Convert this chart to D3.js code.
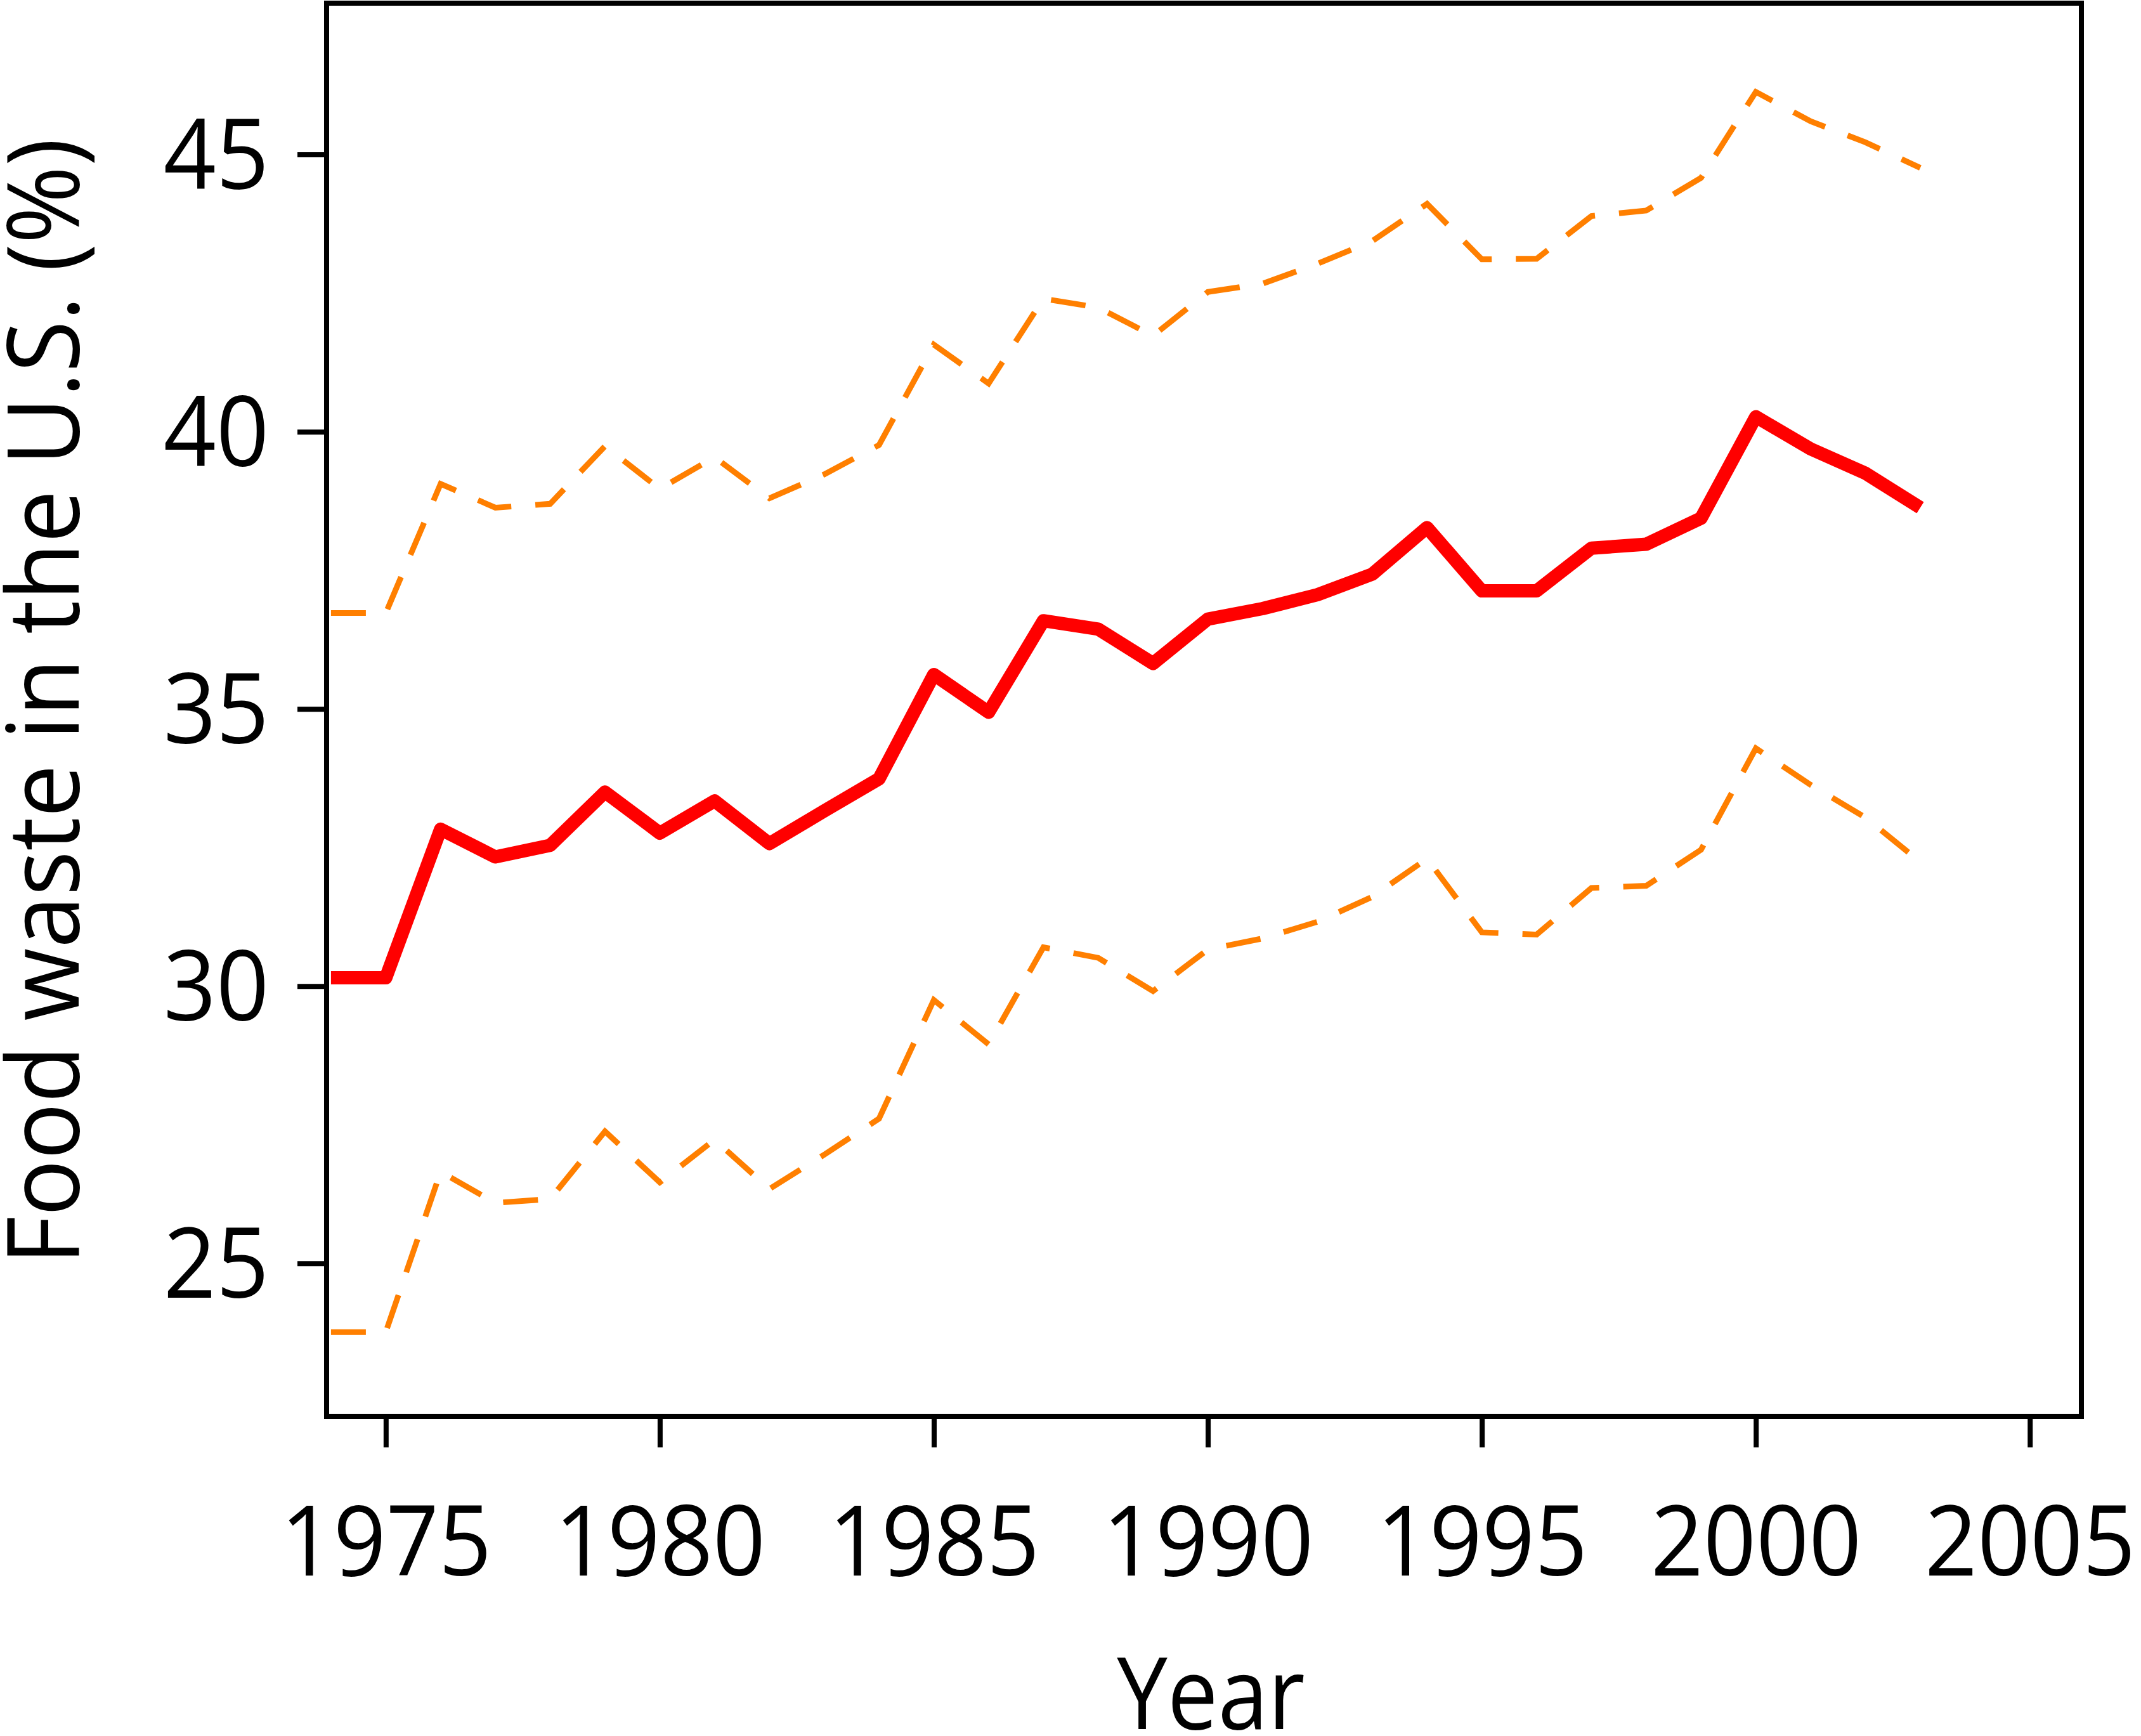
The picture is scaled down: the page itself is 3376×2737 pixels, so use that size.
<!DOCTYPE html>
<html>
<head>
<meta charset="utf-8">
<script src="https://cdn.jsdelivr.net/npm/d3@7"></script>
<style>
  body { margin: 0; background: #fff; }
  svg { display: block; }
  text { font-family: "Open Sans", "Noto Sans", sans-serif; fill: #000; }
</style>
</head>
<body>
<svg id="chart"></svg>
<script>
// data
const years = [1974, 1975, 1976, 1977, 1978, 1979, 1980, 1981, 1982, 1983,
  1984, 1985, 1986, 1987, 1988, 1989, 1990, 1991, 1992, 1993,
  1994, 1995, 1996, 1997, 1998, 1999, 2000, 2001, 2002, 2003];

const waste = [30.15, 30.15, 32.83, 32.33, 32.54, 33.50, 32.76, 33.34, 32.57, 33.16,
  33.74, 35.62, 34.94, 36.59, 36.44, 35.82, 36.62, 36.81, 37.06, 37.43,
  38.27, 37.13, 37.13, 37.90, 37.97, 38.44, 40.27, 39.69, 39.25, 38.63];

const upper = [36.73, 36.73, 39.06, 38.63, 38.70, 39.74, 38.97, 39.54, 38.80, 39.23,
  39.76, 41.57, 40.87, 42.40, 42.24, 41.73, 42.52, 42.67, 43.03, 43.44,
  44.11, 43.11, 43.12, 43.89, 43.99, 44.58, 46.13, 45.60, 45.22, 44.76];

const lower = [23.76, 23.76, 26.65, 26.09, 26.16, 27.38, 26.46, 27.23, 26.34, 26.96,
  27.61, 29.75, 28.95, 30.70, 30.51, 29.91, 30.66, 30.86, 31.16, 31.61,
  32.30, 30.97, 30.93, 31.77, 31.81, 32.46, 34.29, 33.63, 33.04, 32.24];

const xTicks = [1975, 1980, 1985, 1990, 1995, 2000, 2005];
const yTicks = [25, 30, 35, 40, 45];

const W = 3376, H = 2737;
// plot box edges
const boxL = 515, boxR = 3282, boxT = 5, boxB = 2233;
// the original face is narrower than Open Sans, squeeze text a bit
const squeeze = 0.95;

const svg = d3.select("#chart")
  .attr("width", W)
  .attr("height", H);

const x = d3.scaleLinear().domain([1973.92, 2005.94]).range([boxL, boxR]);
const y = d3.scaleLinear().domain([22.24, 47.73]).range([boxB, boxT]);

const line = (vals) => d3.line()
  .x((d, i) => x(years[i]))
  .y(d => y(d))(vals);

// confidence bounds, dashed
svg.append("g").selectAll("path.bound")
  .data([upper, lower]).enter()
  .append("path")
  .attr("class", "bound")
  .attr("d", d => line(d))
  .attr("fill", "none")
  .attr("stroke", "#ff7f00")
  .attr("stroke-width", 9)
  .attr("stroke-dasharray", "55,38");

// main series
svg.append("path")
  .attr("d", line(waste))
  .attr("fill", "none")
  .attr("stroke", "#ff0000")
  .attr("stroke-width", 21)
  .attr("stroke-linejoin", "round");

// box around plot
svg.append("rect")
  .attr("x", boxL)
  .attr("y", boxT)
  .attr("width", boxR - boxL)
  .attr("height", boxB - boxT)
  .attr("fill", "none")
  .attr("stroke", "#000")
  .attr("stroke-width", 8);

// axes
const xAxis = svg.append("g")
  .attr("transform", `translate(0,${boxB})`)
  .call(d3.axisBottom(x).tickValues(xTicks).tickFormat(d3.format("d"))
    .tickSize(49).tickPadding(0));

const yAxis = svg.append("g")
  .attr("transform", `translate(${boxL},0)`)
  .call(d3.axisLeft(y).tickValues(yTicks).tickSize(46).tickPadding(45));

[xAxis, yAxis].forEach(ax => {
  ax.select(".domain").remove();
  ax.selectAll(".tick line").attr("stroke", "#000").attr("stroke-width", 8);
  ax.selectAll(".tick text")
    .style("font-size", "153px")
    .attr("fill", "#000")
    .attr("transform", `scale(${squeeze},1)`);
});

xAxis.selectAll(".tick text")
  .attr("dy", null)
  .attr("y", 2484 - boxB);

yAxis.selectAll(".tick text")
  .attr("x", -91 / squeeze)
  .attr("dy", "0.35em");

// axis titles
svg.append("text")
  .attr("transform", `translate(${(boxL + boxR) / 2 + 11},2726) scale(0.9,1)`)
  .attr("text-anchor", "middle")
  .style("font-size", "158px")
  .text("Year");

svg.append("text")
  .attr("transform", `translate(124,${(boxT + boxB) / 2 - 13}) rotate(-90) scale(0.945,1)`)
  .attr("text-anchor", "middle")
  .style("font-size", "157px")
  .text("Food waste in the U.S. (%)");
</script>
</body>
</html>
